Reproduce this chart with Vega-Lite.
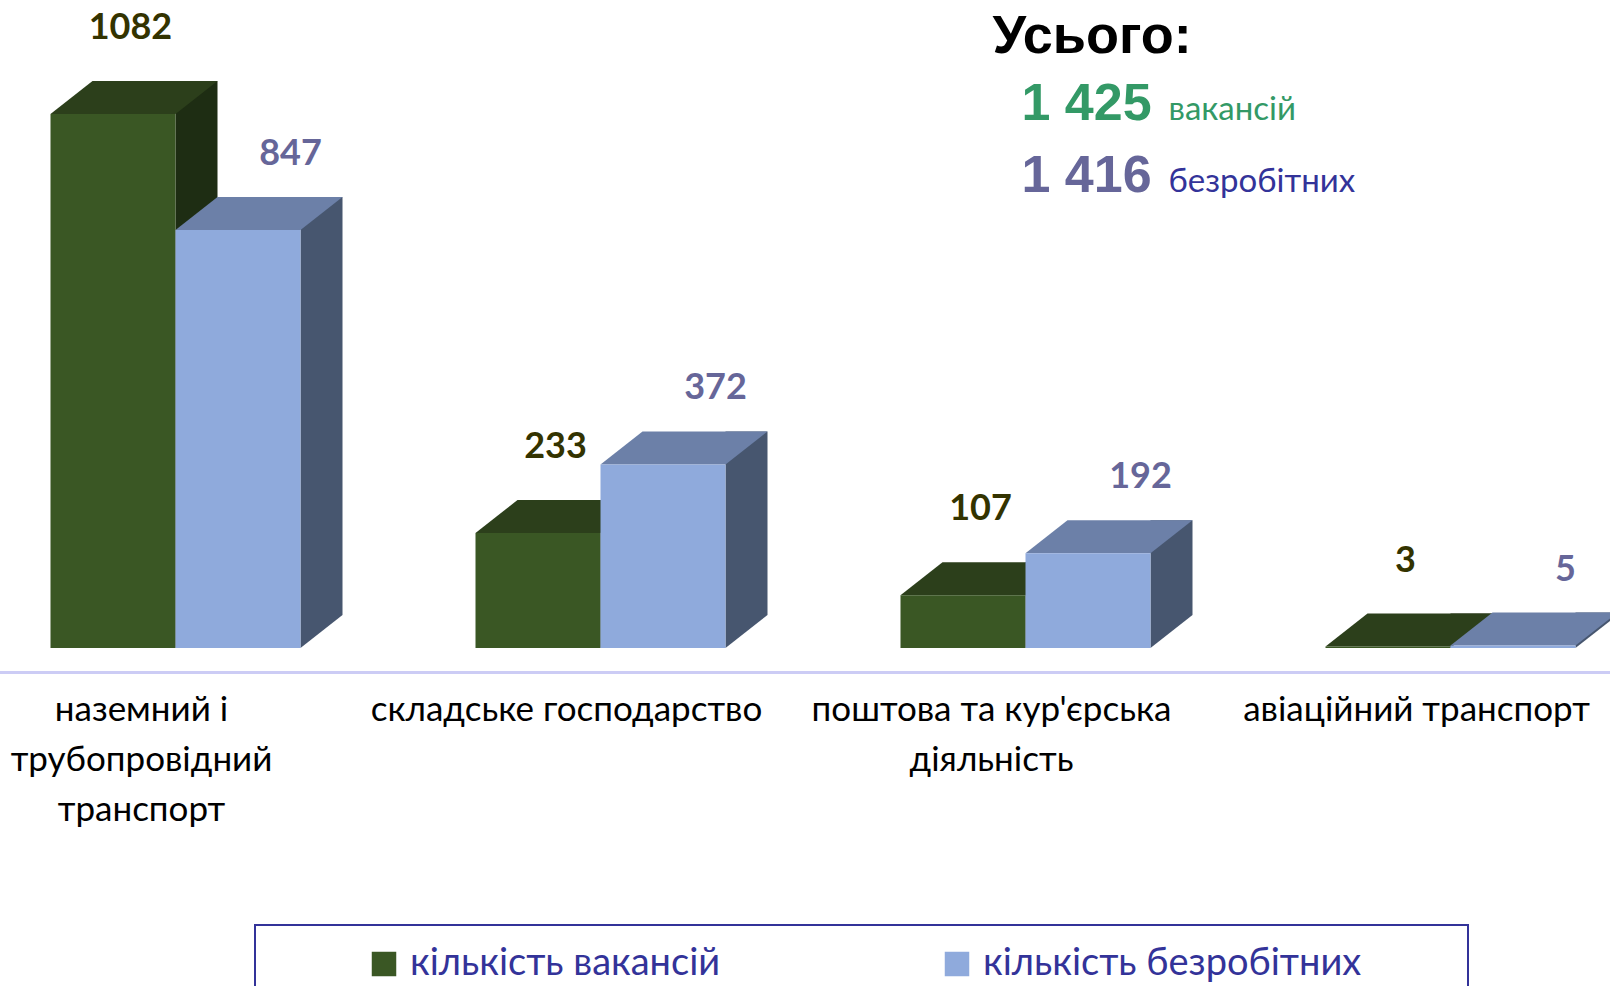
{
  "$schema": "https://vega.github.io/schema/vega-lite/v6.json",
  "width": 1610,
  "height": 648,
  "autosize": {"type": "none"},
  "padding": {"left": 0, "top": 0, "right": 0, "bottom": 338},
  "background": "white",
  "config": {"view": {"stroke": null}, "legend": {"strokeWidth": 2}},
  "datasets": {
    "bars": [
      {"category": "наземний і трубопровідний транспорт", "series": "кількість вакансій", "value": 1082},
      {"category": "наземний і трубопровідний транспорт", "series": "кількість безробітних", "value": 847},
      {"category": "складське господарство", "series": "кількість вакансій", "value": 233},
      {"category": "складське господарство", "series": "кількість безробітних", "value": 372},
      {"category": "поштова та кур'єрська діяльність", "series": "кількість вакансій", "value": 107},
      {"category": "поштова та кур'єрська діяльність", "series": "кількість безробітних", "value": 192},
      {"category": "авіаційний транспорт", "series": "кількість вакансій", "value": 3},
      {"category": "авіаційний транспорт", "series": "кількість безробітних", "value": 5}
    ],
    "totals": [
      {"category": "поштова та кур'єрська діяльність", "heading": "Усього:", "series": "кількість вакансій", "total": "1 425", "unit": "вакансій"},
      {"category": "поштова та кур'єрська діяльність", "heading": "Усього:", "series": "кількість безробітних", "total": "1 416", "unit": "безробітних"}
    ]
  },
  "layer": [
    {
      "data": {"name": "bars"},
      "encoding": {
        "x": {
          "field": "category", "type": "nominal", "sort": null,
          "scale": {"domain": ["наземний і трубопровідний транспорт", "складське господарство", "поштова та кур'єрська діяльність", "авіаційний транспорт"], "range": [-37, 1663], "paddingInner": 0, "paddingOuter": 0},
          "axis": {
            "title": null, "orient": "bottom", "offset": 24, "ticks": false,
            "domainColor": "#CCCCF5", "domainWidth": 3,
            "labelAngle": 0, "labelFont": "Lato", "labelFontSize": 35, "labelColor": "#000000",
            "labelLineHeight": 50, "labelBaseline": "top", "labelPadding": 20, "labelLimit": 0, "labelOffset": -34,
            "labelOverlap": false, "labelFlush": false,
            "labelExpr": "datum.value == 'наземний і трубопровідний транспорт' ? ['наземний і', 'трубопровідний', 'транспорт'] : indexof(datum.value, 'поштова') == 0 ? [\"поштова та кур'єрська\", 'діяльність'] : datum.value"
          }
        },
        "y": {"field": "value", "type": "quantitative", "scale": {"domain": [0, 1313], "nice": false, "zero": true}, "axis": null}
      },
      "layer": [
        {
          "transform": [{"filter": "datum.series == 'кількість вакансій'"}],
          "mark": {"type": "bar", "width": 42, "xOffset": 21, "yOffset": -33, "y2Offset": -33, "fill": "#1E2D13"}
        },
        {
          "transform": [{"filter": "datum.series == 'кількість безробітних'"}],
          "mark": {"type": "bar", "width": 42, "xOffset": 146, "yOffset": -33, "y2Offset": -33, "fill": "#47566F"}
        }
      ]
    },
    {
      "data": {"name": "bars"},
      "mark": {"type": "point", "filled": true, "opacity": 1, "strokeWidth": 0, "size": 62500, "shape": "M0.5,-0.264 L0.836,-0.264 L0.5,0 Z"},
      "encoding": {
        "x": {
          "field": "category", "type": "nominal", "sort": null,
          "axis": {
            "title": null, "orient": "bottom", "offset": 24, "ticks": false,
            "domainColor": "#CCCCF5", "domainWidth": 3,
            "labelAngle": 0, "labelFont": "Lato", "labelFontSize": 35, "labelColor": "#000000",
            "labelLineHeight": 50, "labelBaseline": "top", "labelPadding": 20, "labelLimit": 0, "labelOffset": -34,
            "labelOverlap": false, "labelFlush": false,
            "labelExpr": "datum.value == 'наземний і трубопровідний транспорт' ? ['наземний і', 'трубопровідний', 'транспорт'] : indexof(datum.value, 'поштова') == 0 ? [\"поштова та кур'єрська\", 'діяльність'] : datum.value"
          }
        },
        "xOffset": {"field": "series", "type": "nominal", "sort": ["кількість вакансій", "кількість безробітних"], "scale": {"paddingInner": 0, "paddingOuter": 0.7}},
        "y": {"datum": 0, "type": "quantitative", "axis": null},
        "fill": {"condition": {"test": "datum.series == 'кількість вакансій'", "value": "#1E2D13"}, "value": "#47566F"}
      }
    },
    {
      "data": {"name": "bars"},
      "encoding": {
        "x": {
          "field": "category", "type": "nominal", "sort": null,
          "axis": {
            "title": null, "orient": "bottom", "offset": 24, "ticks": false,
            "domainColor": "#CCCCF5", "domainWidth": 3,
            "labelAngle": 0, "labelFont": "Lato", "labelFontSize": 35, "labelColor": "#000000",
            "labelLineHeight": 50, "labelBaseline": "top", "labelPadding": 20, "labelLimit": 0, "labelOffset": -34,
            "labelOverlap": false, "labelFlush": false,
            "labelExpr": "datum.value == 'наземний і трубопровідний транспорт' ? ['наземний і', 'трубопровідний', 'транспорт'] : indexof(datum.value, 'поштова') == 0 ? [\"поштова та кур'єрська\", 'діяльність'] : datum.value"
          }
        },
        "y": {"field": "value", "type": "quantitative", "axis": null}
      },
      "layer": [
        {
          "mark": {"type": "point", "filled": true, "opacity": 1, "strokeWidth": 0, "size": 62500, "shape": "M-0.5,0 L0.5,0 L0.836,-0.264 L-0.164,-0.264 Z"},
          "encoding": {
            "xOffset": {"field": "series", "type": "nominal", "sort": ["кількість вакансій", "кількість безробітних"]},
            "fill": {"condition": {"test": "datum.series == 'кількість вакансій'", "value": "#2C3F1B"}, "value": "#6C80A8"}
          }
        },
        {
          "mark": {"type": "bar"},
          "encoding": {
            "xOffset": {"field": "series", "type": "nominal", "sort": ["кількість вакансій", "кількість безробітних"]},
            "color": {
              "field": "series", "type": "nominal", "sort": ["кількість вакансій", "кількість безробітних"],
              "scale": {"range": ["#3A5724", "#8FAADC"]},
              "legend": {
                "orient": "none", "legendX": 255, "legendY": 925, "direction": "horizontal",
                "title": " ", "titleOrient": "right", "titlePadding": 87, "titleFontSize": 11,
                "symbolType": "square", "symbolSize": 600, "symbolStrokeWidth": 0,
                "labelFont": "Lato", "labelFontSize": 38, "labelColor": "#333399", "labelOffset": 7, "labelLimit": 0,
                "symbolOffset": 90, "columnPadding": 127, "padding": 20,
                "strokeColor": "#333399"
              }
            }
          }
        },
        {
          "transform": [{"filter": "datum.series == 'кількість вакансій'"}],
          "mark": {"type": "text", "font": "Lato", "fontWeight": "bold", "fontSize": 36, "color": "#333300", "dx": -45, "dy": -86, "baseline": "middle"},
          "encoding": {"text": {"field": "value", "type": "quantitative"}}
        },
        {
          "transform": [{"filter": "datum.series == 'кількість безробітних'"}],
          "mark": {"type": "text", "font": "Lato", "fontWeight": "bold", "fontSize": 36, "color": "#666699", "dx": 115, "dy": -76, "baseline": "middle"},
          "encoding": {"text": {"field": "value", "type": "quantitative"}}
        }
      ]
    },
    {
      "data": {"name": "totals"},
      "encoding": {
        "x": {
          "field": "category", "type": "nominal", "sort": null,
          "axis": {
            "title": null, "orient": "bottom", "offset": 24, "ticks": false,
            "domainColor": "#CCCCF5", "domainWidth": 3,
            "labelAngle": 0, "labelFont": "Lato", "labelFontSize": 35, "labelColor": "#000000",
            "labelLineHeight": 50, "labelBaseline": "top", "labelPadding": 20, "labelLimit": 0, "labelOffset": -34,
            "labelOverlap": false, "labelFlush": false,
            "labelExpr": "datum.value == 'наземний і трубопровідний транспорт' ? ['наземний і', 'трубопровідний', 'транспорт'] : indexof(datum.value, 'поштова') == 0 ? [\"поштова та кур'єрська\", 'діяльність'] : datum.value"
          }
        }
      },
      "layer": [
        {
          "transform": [{"filter": "datum.series == 'кількість вакансій'"}],
          "mark": {"type": "text", "font": "Liberation Sans", "fontWeight": "bold", "fontSize": 54, "color": "#000000", "align": "left", "baseline": "alphabetic", "dx": -33},
          "encoding": {"y": {"datum": 1206, "type": "quantitative", "axis": null}, "text": {"field": "heading", "type": "nominal"}}
        },
        {
          "transform": [{"filter": "datum.series == 'кількість вакансій'"}],
          "mark": {"type": "text", "font": "Liberation Sans", "fontWeight": "bold", "fontSize": 52, "color": "#339966", "align": "left", "baseline": "alphabetic", "dx": -4},
          "encoding": {"y": {"datum": 1070, "type": "quantitative", "axis": null}, "text": {"field": "total", "type": "nominal"}}
        },
        {
          "transform": [{"filter": "datum.series == 'кількість вакансій'"}],
          "mark": {"type": "text", "font": "Lato", "fontSize": 33, "color": "#339966", "align": "left", "baseline": "alphabetic", "dx": 143},
          "encoding": {"y": {"datum": 1070, "type": "quantitative", "axis": null}, "text": {"field": "unit", "type": "nominal"}}
        },
        {
          "transform": [{"filter": "datum.series == 'кількість безробітних'"}],
          "mark": {"type": "text", "font": "Liberation Sans", "fontWeight": "bold", "fontSize": 52, "color": "#666699", "align": "left", "baseline": "alphabetic", "dx": -4},
          "encoding": {"y": {"datum": 924, "type": "quantitative", "axis": null}, "text": {"field": "total", "type": "nominal"}}
        },
        {
          "transform": [{"filter": "datum.series == 'кількість безробітних'"}],
          "mark": {"type": "text", "font": "Lato", "fontSize": 33, "color": "#333399", "align": "left", "baseline": "alphabetic", "dx": 143},
          "encoding": {"y": {"datum": 924, "type": "quantitative", "axis": null}, "text": {"field": "unit", "type": "nominal"}}
        }
      ]
    }
  ]
}
